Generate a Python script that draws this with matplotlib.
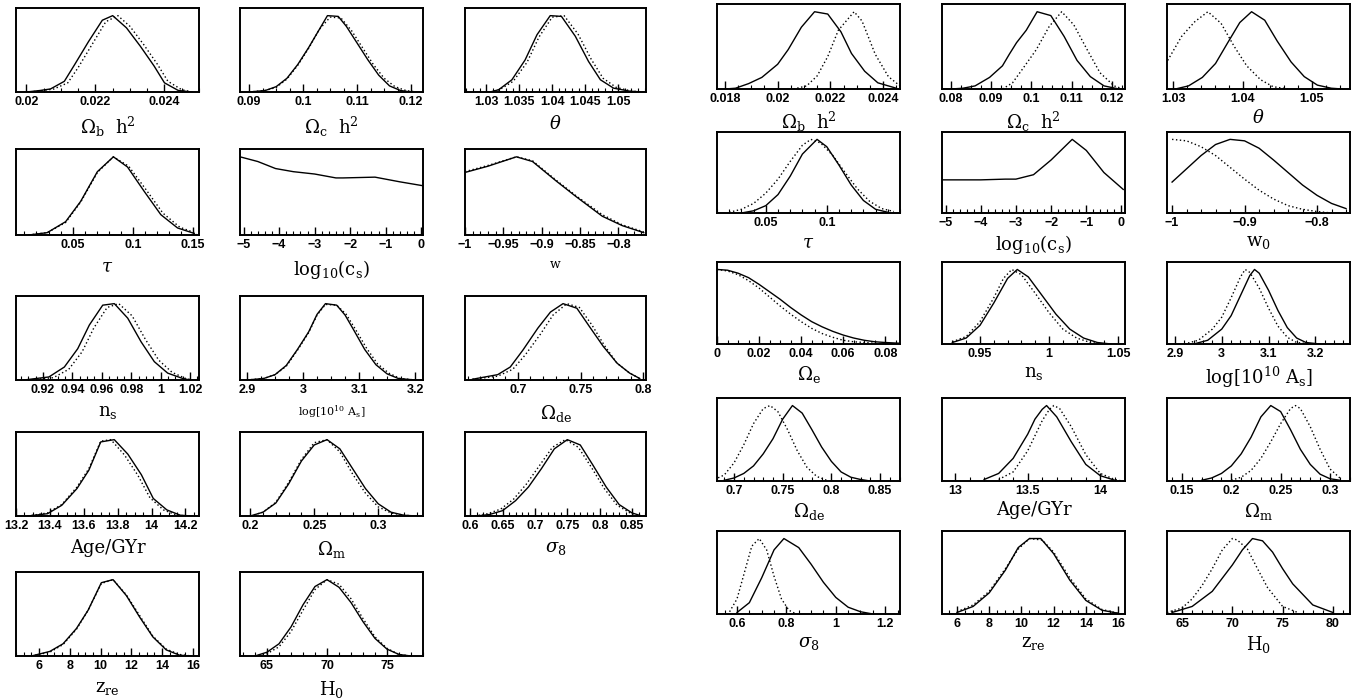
import matplotlib
matplotlib.use('Agg')
import matplotlib.pyplot as plt
from matplotlib.ticker import MultipleLocator

plt.rcParams['mathtext.fontset'] = 'dejavuserif'
plt.rcParams['font.family'] = 'DejaVu Serif'

# ---------------- left block (solid / dotted marginalised likelihoods) ----------------
l_obh2_x = [0.0200, 0.0204, 0.0207, 0.0211, 0.0214, 0.0218, 0.0222, 0.0225, 0.0229, 0.0233, 0.0237, 0.0240, 0.0244, 0.0248]
l_obh2_y = [0, 0.02, 0.04, 0.14, 0.36, 0.66, 0.94, 1.0, 0.84, 0.6, 0.34, 0.12, 0.02, 0]
l_obh2_xd = [0.0201, 0.0205, 0.0208, 0.0212, 0.0215, 0.0219, 0.0223, 0.02265, 0.0230, 0.0234, 0.0238, 0.0241, 0.0245, 0.0248]
l_obh2_yd = [0, 0.02, 0.04, 0.12, 0.32, 0.62, 0.92, 1.0, 0.86, 0.62, 0.36, 0.14, 0.03, 0]

l_och2_x = [0.090, 0.093, 0.095, 0.097, 0.099, 0.101, 0.103, 0.1045, 0.1065, 0.108, 0.110, 0.112, 0.114, 0.116, 0.118, 0.120]
l_och2_y = [0, 0.02, 0.07, 0.18, 0.36, 0.58, 0.82, 1.0, 0.99, 0.86, 0.64, 0.42, 0.22, 0.08, 0.02, 0]
l_och2_xd = [0.090, 0.093, 0.095, 0.097, 0.099, 0.101, 0.103, 0.105, 0.107, 0.109, 0.111, 0.113, 0.115, 0.117, 0.119, 0.121]
l_och2_yd = [0, 0.02, 0.06, 0.17, 0.35, 0.57, 0.82, 0.98, 0.97, 0.8, 0.58, 0.36, 0.18, 0.07, 0.02, 0]

l_th_x = [1.0306, 1.0319, 1.0339, 1.0359, 1.0377, 1.0397, 1.0414, 1.0435, 1.0455, 1.0473, 1.0493, 1.0518, 1.0538]
l_th_y = [0, 0.03, 0.16, 0.42, 0.75, 1.0, 0.99, 0.73, 0.4, 0.16, 0.05, 0.01, 0]
l_th_xd = [1.0306, 1.0320, 1.0341, 1.0362, 1.0380, 1.0400, 1.0418, 1.0439, 1.0459, 1.0477, 1.0497, 1.0521, 1.0540]
l_th_yd = [0, 0.03, 0.14, 0.39, 0.72, 0.98, 1.0, 0.76, 0.43, 0.18, 0.06, 0.01, 0]

l_tau_x = [0.0136, 0.0289, 0.0442, 0.0567, 0.0706, 0.0839, 0.0956, 0.1094, 0.1233, 0.1372, 0.1511]
l_tau_y = [0, 0.03, 0.17, 0.43, 0.81, 1.0, 0.87, 0.56, 0.26, 0.09, 0.02]
l_tau_xd = [0.0136, 0.0289, 0.0442, 0.0567, 0.0706, 0.0839, 0.0966, 0.1110, 0.1250, 0.1390, 0.1530]
l_tau_yd = [0, 0.03, 0.16, 0.42, 0.8, 1.0, 0.88, 0.58, 0.28, 0.1, 0.02]

l_lcs_x = [-5.1, -4.6, -4.1, -3.6, -3.0, -2.4, -2.2, -1.3, -0.6, 0.05]
l_lcs_y = [1.0, 0.94, 0.85, 0.81, 0.78, 0.73, 0.73, 0.74, 0.68, 0.63]

l_w_x = [-1.0, -0.97, -0.933, -0.912, -0.881, -0.855, -0.821, -0.795, -0.767]
l_w_y = [0.8, 0.88, 1.0, 0.94, 0.69, 0.49, 0.24, 0.12, 0.03]
l_w_yd = [0.81, 0.89, 1.0, 0.95, 0.7, 0.5, 0.26, 0.13, 0.04]

l_ns_x = [0.907, 0.924, 0.9345, 0.9436, 0.9515, 0.9606, 0.9685, 0.9776, 0.9867, 0.9957, 1.0048, 1.015, 1.02]
l_ns_y = [0, 0.04, 0.17, 0.41, 0.72, 0.98, 1.0, 0.81, 0.5, 0.24, 0.09, 0.02, 0]
l_ns_xd = [0.91, 0.927, 0.9375, 0.9466, 0.9545, 0.9636, 0.9715, 0.9806, 0.9897, 0.9987, 1.0078, 1.017, 1.022]
l_ns_yd = [0, 0.03, 0.14, 0.37, 0.68, 0.95, 1.0, 0.84, 0.53, 0.26, 0.1, 0.02, 0]

l_as_x = [2.90, 2.93, 2.95, 2.97, 2.99, 3.01, 3.025, 3.04, 3.06, 3.075, 3.09, 3.11, 3.13, 3.15, 3.17, 3.2]
l_as_y = [0, 0.02, 0.07, 0.19, 0.4, 0.63, 0.86, 1.0, 0.98, 0.85, 0.66, 0.4, 0.2, 0.08, 0.02, 0]
l_as_xd = [2.90, 2.93, 2.95, 2.97, 2.99, 3.01, 3.025, 3.04, 3.06, 3.077, 3.093, 3.113, 3.133, 3.153, 3.173, 3.2]
l_as_yd = [0, 0.02, 0.07, 0.18, 0.39, 0.62, 0.85, 0.99, 0.98, 0.86, 0.67, 0.42, 0.21, 0.09, 0.02, 0]

l_ode_x = [0.664, 0.684, 0.694, 0.704, 0.716, 0.726, 0.736, 0.747, 0.757, 0.768, 0.779, 0.789, 0.797]
l_ode_y = [0.01, 0.07, 0.17, 0.39, 0.68, 0.89, 1.0, 0.94, 0.7, 0.44, 0.22, 0.09, 0.02]
l_ode_xd = [0.664, 0.684, 0.696, 0.706, 0.718, 0.728, 0.739, 0.749, 0.759, 0.769, 0.779, 0.789, 0.797]
l_ode_yd = [0.01, 0.05, 0.14, 0.33, 0.6, 0.85, 1.0, 0.95, 0.72, 0.45, 0.22, 0.09, 0.02]

l_age_x = [13.27, 13.386, 13.47, 13.56, 13.63, 13.7, 13.78, 13.86, 13.94, 14.01, 14.09, 14.17, 14.24]
l_age_y = [0, 0.03, 0.14, 0.36, 0.6, 0.97, 1.0, 0.81, 0.54, 0.23, 0.08, 0.01, 0]
l_age_xd = [13.27, 13.386, 13.47, 13.56, 13.63, 13.7, 13.76, 13.84, 13.92, 13.99, 14.07, 14.15, 14.22]
l_age_yd = [0, 0.04, 0.15, 0.38, 0.62, 0.98, 1.0, 0.8, 0.53, 0.24, 0.08, 0.01, 0]

l_om_x = [0.2, 0.21, 0.22, 0.23, 0.24, 0.25, 0.26, 0.27, 0.28, 0.29, 0.30, 0.31, 0.32, 0.33]
l_om_y = [0, 0.05, 0.17, 0.42, 0.72, 0.93, 1.0, 0.88, 0.62, 0.36, 0.16, 0.05, 0.01, 0]
l_om_yd = [0, 0.05, 0.18, 0.44, 0.74, 0.96, 1.0, 0.84, 0.55, 0.3, 0.12, 0.04, 0.01, 0]

l_s8_x = [0.61, 0.63, 0.65, 0.67, 0.69, 0.71, 0.73, 0.75, 0.77, 0.79, 0.81, 0.83, 0.85, 0.865]
l_s8_y = [0, 0.02, 0.07, 0.2, 0.38, 0.62, 0.88, 1.0, 0.93, 0.66, 0.38, 0.15, 0.04, 0]
l_s8_xd = [0.607, 0.627, 0.647, 0.667, 0.687, 0.707, 0.727, 0.747, 0.767, 0.787, 0.807, 0.827, 0.847, 0.862]
l_s8_yd = [0, 0.03, 0.09, 0.22, 0.42, 0.66, 0.9, 1.0, 0.9, 0.64, 0.36, 0.14, 0.04, 0]

l_zre_x = [5.5, 6.7, 7.56, 8.43, 9.19, 10.05, 10.81, 11.68, 12.54, 13.4, 14.27, 15.14, 15.9]
l_zre_y = [0, 0.06, 0.16, 0.36, 0.6, 0.96, 1.0, 0.79, 0.51, 0.25, 0.08, 0.01, 0]
l_zre_yd = [0, 0.05, 0.15, 0.35, 0.6, 0.95, 1.0, 0.8, 0.53, 0.26, 0.09, 0.02, 0]

l_h0_x = [64, 65, 66, 67, 68, 69, 70, 71, 72, 73, 74, 75, 76, 77]
l_h0_y = [0, 0.05, 0.16, 0.38, 0.67, 0.91, 1.0, 0.9, 0.7, 0.45, 0.23, 0.09, 0.02, 0]
l_h0_yd = [0, 0.03, 0.12, 0.32, 0.6, 0.87, 1.0, 0.94, 0.75, 0.49, 0.25, 0.1, 0.02, 0]

# ---------------- right block ----------------
r_obh2_x = [0.018, 0.0184, 0.0189, 0.0194, 0.0200, 0.0204, 0.0209, 0.0214, 0.0219, 0.0224, 0.0228, 0.0233, 0.0238, 0.0245]
r_obh2_y = [0, 0.01, 0.07, 0.15, 0.32, 0.51, 0.8, 1.0, 0.97, 0.74, 0.46, 0.23, 0.08, 0.01]
r_obh2_xd = [0.0206, 0.0211, 0.0215, 0.0219, 0.0223, 0.0229, 0.0232, 0.0237, 0.0242, 0.02464]
r_obh2_yd = [0, 0.04, 0.17, 0.42, 0.76, 1.0, 0.88, 0.45, 0.16, 0.04]

r_och2_x = [0.080, 0.083, 0.086, 0.0896, 0.0928, 0.0945, 0.0963, 0.0987, 0.1014, 0.1048, 0.1081, 0.1113, 0.1146, 0.118, 0.1217]
r_och2_y = [0, 0.01, 0.04, 0.15, 0.3, 0.45, 0.6, 0.76, 1.0, 0.95, 0.68, 0.37, 0.16, 0.04, 0]
r_och2_xd = [0.0928, 0.0953, 0.0978, 0.1012, 0.1044, 0.1075, 0.1105, 0.1138, 0.1170, 0.1205, 0.1222]
r_och2_yd = [0, 0.08, 0.26, 0.51, 0.81, 1.0, 0.83, 0.51, 0.21, 0.04, 0.01]

r_th_x = [1.0303, 1.0322, 1.0342, 1.0361, 1.0378, 1.0396, 1.0413, 1.0432, 1.045, 1.047, 1.0489, 1.0508, 1.0528, 1.0544]
r_th_y = [0, 0.04, 0.15, 0.33, 0.59, 0.86, 1.0, 0.89, 0.62, 0.35, 0.16, 0.05, 0.01, 0]
r_th_xd = [1.0292, 1.0312, 1.0331, 1.035, 1.0369, 1.0388, 1.0406, 1.0426, 1.0444, 1.0466]
r_th_yd = [0.37, 0.68, 0.87, 1.0, 0.85, 0.55, 0.3, 0.12, 0.03, 0]

r_tau_x = [0.03, 0.04, 0.05, 0.06, 0.07, 0.08, 0.092, 0.10, 0.11, 0.12, 0.13, 0.14, 0.15]
r_tau_y = [0, 0.03, 0.1, 0.25, 0.5, 0.8, 1.0, 0.9, 0.65, 0.38, 0.17, 0.05, 0.01]
r_tau_xd = [0.02, 0.03, 0.04, 0.05, 0.06, 0.07, 0.08, 0.087, 0.095, 0.105, 0.115, 0.125, 0.135, 0.145, 0.155]
r_tau_yd = [0.01, 0.05, 0.13, 0.27, 0.46, 0.7, 0.92, 1.0, 0.95, 0.78, 0.55, 0.33, 0.16, 0.06, 0.02]

r_lcs_x = [-5.1, -4.0, -3.3, -3.0, -2.5, -2.0, -1.4, -1.0, -0.5, 0.05]
r_lcs_y = [0.45, 0.45, 0.46, 0.46, 0.52, 0.72, 1.0, 0.85, 0.55, 0.32]

r_w0_x = [-1.0, -0.98, -0.96, -0.94, -0.92, -0.9, -0.88, -0.86, -0.84, -0.82, -0.8, -0.78, -0.76]
r_w0_y = [0.42, 0.6, 0.78, 0.93, 1.0, 0.98, 0.88, 0.72, 0.55, 0.38, 0.24, 0.13, 0.06]
r_w0_xd = [-1.0, -0.98, -0.96, -0.94, -0.92, -0.9, -0.88, -0.86, -0.84, -0.82, -0.8, -0.78]
r_w0_yd = [1.0, 0.98, 0.9, 0.78, 0.62, 0.46, 0.31, 0.19, 0.1, 0.05, 0.02, 0.0]

r_oe_x = [0, 0.005, 0.01, 0.015, 0.02, 0.025, 0.03, 0.035, 0.04, 0.045, 0.05, 0.055, 0.06, 0.065, 0.07, 0.075, 0.08, 0.087]
r_oe_y = [1.0, 0.99, 0.95, 0.89, 0.8, 0.7, 0.6, 0.49, 0.39, 0.3, 0.23, 0.17, 0.12, 0.08, 0.05, 0.03, 0.02, 0.01]
r_oe_yd = [1.0, 0.98, 0.93, 0.85, 0.75, 0.63, 0.51, 0.4, 0.3, 0.21, 0.14, 0.09, 0.05, 0.03, 0.02, 0.01, 0, 0]

r_ns_x = [0.93, 0.94, 0.95, 0.96, 0.97, 0.977, 0.985, 0.995, 1.005, 1.015, 1.025, 1.035, 1.045]
r_ns_y = [0.02, 0.08, 0.25, 0.55, 0.88, 1.0, 0.9, 0.65, 0.4, 0.2, 0.08, 0.02, 0.0]
r_ns_xd = [0.93, 0.94, 0.95, 0.96, 0.967, 0.973, 0.98, 0.99, 1.0, 1.01, 1.02, 1.03, 1.04]
r_ns_yd = [0.03, 0.1, 0.3, 0.62, 0.88, 1.0, 0.93, 0.68, 0.42, 0.2, 0.08, 0.02, 0.0]

r_as_x = [2.94, 2.97, 3.0, 3.02, 3.04, 3.06, 3.07, 3.08, 3.1, 3.12, 3.14, 3.16, 3.18, 3.21]
r_as_y = [0, 0.05, 0.2, 0.38, 0.65, 0.92, 1.0, 0.95, 0.72, 0.45, 0.22, 0.08, 0.02, 0]
r_as_xd = [2.92, 2.95, 2.98, 3.0, 3.02, 3.04, 3.05, 3.06, 3.08, 3.1, 3.12, 3.14, 3.16, 3.19]
r_as_yd = [0, 0.05, 0.2, 0.36, 0.62, 0.9, 1.0, 0.96, 0.75, 0.48, 0.24, 0.09, 0.02, 0]

r_ode_x = [0.69, 0.70, 0.71, 0.72, 0.73, 0.74, 0.75, 0.76, 0.77, 0.78, 0.79, 0.80, 0.81, 0.82, 0.83, 0.84]
r_ode_y = [0.01, 0.04, 0.1, 0.2, 0.36, 0.56, 0.82, 1.0, 0.9, 0.68, 0.45, 0.26, 0.12, 0.05, 0.02, 0]
r_ode_xd = [0.68, 0.69, 0.70, 0.71, 0.72, 0.73, 0.737, 0.745, 0.755, 0.765, 0.775, 0.785, 0.795]
r_ode_yd = [0.02, 0.08, 0.24, 0.48, 0.76, 0.96, 1.0, 0.92, 0.68, 0.4, 0.18, 0.06, 0.01]

r_age_x = [13.2, 13.3, 13.4, 13.5, 13.55, 13.6, 13.63, 13.7, 13.8, 13.9, 14.0, 14.1]
r_age_y = [0.02, 0.1, 0.3, 0.62, 0.82, 0.95, 1.0, 0.85, 0.52, 0.22, 0.07, 0.01]
r_age_xd = [13.3, 13.4, 13.5, 13.6, 13.65, 13.68, 13.72, 13.8, 13.9, 14.0, 14.1, 14.15]
r_age_yd = [0.02, 0.12, 0.4, 0.8, 0.95, 1.0, 0.96, 0.72, 0.35, 0.1, 0.02, 0]

r_om_x = [0.17, 0.18, 0.19, 0.2, 0.21, 0.22, 0.23, 0.24, 0.25, 0.26, 0.27, 0.28, 0.29, 0.30, 0.31]
r_om_y = [0.01, 0.04, 0.1, 0.2, 0.36, 0.58, 0.85, 1.0, 0.92, 0.68, 0.42, 0.22, 0.09, 0.03, 0.01]
r_om_xd = [0.2, 0.21, 0.22, 0.23, 0.24, 0.25, 0.26, 0.265, 0.27, 0.28, 0.29, 0.30, 0.31]
r_om_yd = [0.01, 0.05, 0.14, 0.3, 0.52, 0.76, 0.96, 1.0, 0.96, 0.72, 0.42, 0.16, 0.04]

r_s8_x = [0.6, 0.65, 0.7, 0.75, 0.79, 0.85, 0.9, 0.95, 1.0, 1.05, 1.1, 1.15]
r_s8_y = [0.02, 0.15, 0.48, 0.85, 1.0, 0.88, 0.66, 0.42, 0.22, 0.09, 0.03, 0.0]
r_s8_xd = [0.57, 0.6, 0.63, 0.66, 0.69, 0.72, 0.75, 0.78, 0.81, 0.84]
r_s8_yd = [0.03, 0.2, 0.55, 0.9, 1.0, 0.85, 0.5, 0.2, 0.05, 0.0]

r_zre_x = [6, 7, 8, 9, 9.8, 10.5, 11.2, 12, 13, 14, 15, 16]
r_zre_y = [0.02, 0.1, 0.28, 0.58, 0.88, 1.0, 1.0, 0.8, 0.45, 0.18, 0.05, 0.01]
r_zre_xd = [6, 7, 8, 9, 9.8, 10.5, 11.3, 12, 13, 14, 15, 16]
r_zre_yd = [0.03, 0.12, 0.3, 0.6, 0.86, 1.0, 0.98, 0.82, 0.48, 0.2, 0.06, 0.01]

r_h0_x = [64, 66, 68, 70, 71, 72, 73, 74, 75, 76, 78, 80]
r_h0_y = [0.02, 0.1, 0.3, 0.65, 0.85, 1.0, 0.97, 0.82, 0.6, 0.4, 0.12, 0.02]
r_h0_xd = [63.5, 65, 66, 67, 68, 69, 70, 70.5, 71.5, 72.5, 73.5, 75, 76.5]
r_h0_yd = [0.02, 0.08, 0.2, 0.38, 0.6, 0.85, 1.0, 0.98, 0.86, 0.6, 0.35, 0.1, 0.02]

# ---------------- layout (pixels) ----------------
W, H = 1363, 700
left_cols = [(16, 199), (240, 423), (465, 646)]
left_rows = [(8, 92), (149, 235), (296, 380), (432, 516), (572, 656)]
right_cols = [(717, 900), (942, 1125), (1167, 1350)]
right_rows = [(4, 89), (132, 213), (262, 344), (398, 481), (531, 614)]

fig = plt.figure(figsize=(W / 100, H / 100), dpi=100)


def rect(col, row):
    x0, x1 = col
    t, b = row
    return [x0 / W, 1 - b / H, (x1 - x0) / W, (b - t) / H]


def tick_text(v):
    return ('%g' % v).replace('-', '\u2212')


def panel(r, label, xs, ys, xd, yd, xlim, ticks, minor, lsize=13, lpad=5):
    ax = fig.add_axes(r)
    ax.plot(xs, ys, color='black', lw=1.0)
    if xd is not None:
        ax.plot(xd, yd, color='black', lw=1.0, ls=(0, (1, 1.8)))
    ax.set_xlim(*xlim)
    ax.set_ylim(0, 1.1)
    ax.set_yticks([])
    ax.set_xticks(ticks, [tick_text(t) for t in ticks],
                  fontsize=9, fontweight='bold', fontfamily='Liberation Sans')
    ax.xaxis.set_minor_locator(MultipleLocator(minor))
    ax.tick_params(axis='x', which='major', direction='in', length=6, width=1, pad=3)
    ax.tick_params(axis='x', which='minor', direction='in', length=3, width=0.8)
    for s in ax.spines.values():
        s.set_linewidth(1.4)
    ax.set_xlabel(label, fontsize=lsize, labelpad=lpad)
    return ax


# left block
panel(rect(left_cols[0], left_rows[0]), r'$\Omega_{\rm b}\ \ {\rm h}^2$', l_obh2_x, l_obh2_y, l_obh2_xd, l_obh2_yd,
      (0.0197, 0.0250), [0.02, 0.022, 0.024], 0.0005)
panel(rect(left_cols[1], left_rows[0]), r'$\Omega_{\rm c}\ \ {\rm h}^2$', l_och2_x, l_och2_y, l_och2_xd, l_och2_yd,
      (0.0883, 0.1222), [0.09, 0.1, 0.11, 0.12], 0.0025)
panel(rect(left_cols[2], left_rows[0]), r'$\theta$', l_th_x, l_th_y, l_th_xd, l_th_yd,
      (1.0268, 1.0542), [1.03, 1.035, 1.04, 1.045, 1.05], 0.001)
panel(rect(left_cols[0], left_rows[1]), r'$\tau$', l_tau_x, l_tau_y, l_tau_xd, l_tau_yd,
      (0.003, 0.155), [0.05, 0.1, 0.15], 0.01)
panel(rect(left_cols[1], left_rows[1]), r'${\rm log}_{10}({\rm c}_{\rm s})$', l_lcs_x, l_lcs_y, None, None,
      (-5.1, 0.05), [-5, -4, -3, -2, -1, 0], 0.2)
panel(rect(left_cols[2], left_rows[1]), 'w', l_w_x, l_w_y, l_w_x, l_w_yd,
      (-1.0, -0.764), [-1, -0.95, -0.9, -0.85, -0.8], 0.01, lsize=9)
panel(rect(left_cols[0], left_rows[2]), r'${\rm n}_{\rm s}$', l_ns_x, l_ns_y, l_ns_xd, l_ns_yd,
      (0.9016, 1.0261), [0.92, 0.94, 0.96, 0.98, 1, 1.02], 0.005)
panel(rect(left_cols[1], left_rows[2]), r'${\rm log}[10^{10}\ {\rm A}_{\rm s}]$', l_as_x, l_as_y, l_as_xd, l_as_yd,
      (2.8875, 3.214), [2.9, 3, 3.1, 3.2], 0.025, lsize=8)
panel(rect(left_cols[2], left_rows[2]), r'$\Omega_{\rm de}$', l_ode_x, l_ode_y, l_ode_xd, l_ode_yd,
      (0.658, 0.802), [0.7, 0.75, 0.8], 0.01)
panel(rect(left_cols[0], left_rows[3]), 'Age/GYr', l_age_x, l_age_y, l_age_xd, l_age_yd,
      (13.2, 14.28), [13.2, 13.4, 13.6, 13.8, 14, 14.2], 0.05)
panel(rect(left_cols[1], left_rows[3]), r'$\Omega_{\rm m}$', l_om_x, l_om_y, l_om_x, l_om_yd,
      (0.192, 0.335), [0.2, 0.25, 0.3], 0.01)
panel(rect(left_cols[2], left_rows[3]), r'$\sigma_8$', l_s8_x, l_s8_y, l_s8_xd, l_s8_yd,
      (0.592, 0.8715), [0.6, 0.65, 0.7, 0.75, 0.8, 0.85], 0.01)
panel(rect(left_cols[0], left_rows[4]), r'${\rm z}_{\rm re}$', l_zre_x, l_zre_y, l_zre_x, l_zre_yd,
      (4.5, 16.4), [6, 8, 10, 12, 14, 16], 0.5)
panel(rect(left_cols[1], left_rows[4]), r'${\rm H}_0$', l_h0_x, l_h0_y, l_h0_x, l_h0_yd,
      (62.75, 78), [65, 70, 75], 1)

# right block
RP = 3
panel(rect(right_cols[0], right_rows[0]), r'$\Omega_{\rm b}\ \ {\rm h}^2$', r_obh2_x, r_obh2_y, r_obh2_xd, r_obh2_yd,
      (0.0177, 0.02464), [0.018, 0.02, 0.022, 0.024], 0.0005, lpad=RP)
panel(rect(right_cols[1], right_rows[0]), r'$\Omega_{\rm c}\ \ {\rm h}^2$', r_och2_x, r_och2_y, r_och2_xd, r_och2_yd,
      (0.0778, 0.1232), [0.08, 0.09, 0.1, 0.11, 0.12], 0.0025, lpad=RP)
panel(rect(right_cols[2], right_rows[0]), r'$\theta$', r_th_x, r_th_y, r_th_xd, r_th_yd,
      (1.0291, 1.0555), [1.03, 1.04, 1.05], 0.002, lpad=RP)
panel(rect(right_cols[0], right_rows[1]), r'$\tau$', r_tau_x, r_tau_y, r_tau_xd, r_tau_yd,
      (0.01, 0.16), [0.05, 0.1], 0.01, lpad=RP)
panel(rect(right_cols[1], right_rows[1]), r'${\rm log}_{10}({\rm c}_{\rm s})$', r_lcs_x, r_lcs_y, None, None,
      (-5.1, 0.1), [-5, -4, -3, -2, -1, 0], 0.2, lpad=RP)
panel(rect(right_cols[2], right_rows[1]), r'${\rm w}_0$', r_w0_x, r_w0_y, r_w0_xd, r_w0_yd,
      (-1.007, -0.7545), [-1, -0.9, -0.8], 0.02, lpad=RP)
panel(rect(right_cols[0], right_rows[2]), r'$\Omega_{\rm e}$', r_oe_x, r_oe_y, r_oe_x, r_oe_yd,
      (0, 0.087), [0, 0.02, 0.04, 0.06, 0.08], 0.005, lpad=RP)
panel(rect(right_cols[1], right_rows[2]), r'${\rm n}_{\rm s}$', r_ns_x, r_ns_y, r_ns_xd, r_ns_yd,
      (0.9225, 1.055), [0.95, 1, 1.05], 0.01, lpad=RP)
panel(rect(right_cols[2], right_rows[2]), r'${\rm log}[10^{10}\ {\rm A}_{\rm s}]$', r_as_x, r_as_y, r_as_xd, r_as_yd,
      (2.883, 3.274), [2.9, 3, 3.1, 3.2], 0.02, lpad=RP)
panel(rect(right_cols[0], right_rows[3]), r'$\Omega_{\rm de}$', r_ode_x, r_ode_y, r_ode_xd, r_ode_yd,
      (0.6825, 0.8705), [0.7, 0.75, 0.8, 0.85], 0.01, lpad=RP)
panel(rect(right_cols[1], right_rows[3]), 'Age/GYr', r_age_x, r_age_y, r_age_xd, r_age_yd,
      (12.91, 14.17), [13, 13.5, 14], 0.1, lpad=RP)
panel(rect(right_cols[2], right_rows[3]), r'$\Omega_{\rm m}$', r_om_x, r_om_y, r_om_xd, r_om_yd,
      (0.1348, 0.3203), [0.15, 0.2, 0.25, 0.3], 0.01, lpad=RP)
panel(rect(right_cols[0], right_rows[4]), r'$\sigma_8$', r_s8_x, r_s8_y, r_s8_xd, r_s8_yd,
      (0.519, 1.26), [0.6, 0.8, 1, 1.2], 0.05, lpad=RP)
panel(rect(right_cols[1], right_rows[4]), r'${\rm z}_{\rm re}$', r_zre_x, r_zre_y, r_zre_xd, r_zre_yd,
      (5.07, 16.43), [6, 8, 10, 12, 14, 16], 0.5, lpad=RP)
panel(rect(right_cols[2], right_rows[4]), r'${\rm H}_0$', r_h0_x, r_h0_y, r_h0_xd, r_h0_yd,
      (63.5, 81.7), [65, 70, 75, 80], 1, lpad=RP)

fig.savefig('out.png', dpi=100)
